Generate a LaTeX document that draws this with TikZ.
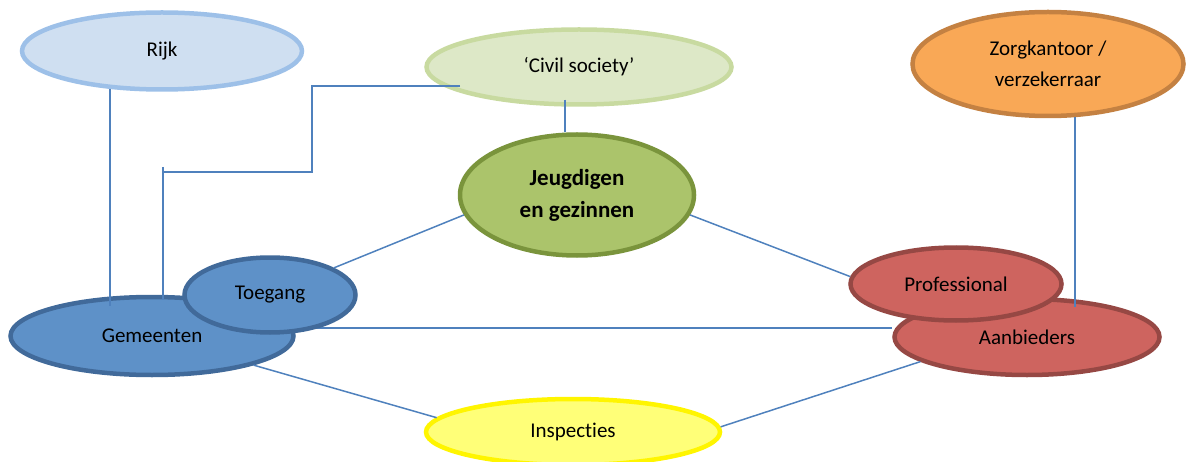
\documentclass[tikz,border=0pt]{standalone}
\usepackage{fontspec}
\setmainfont[Ligatures=NoCommon]{Carlito}
\usetikzlibrary{shapes.geometric}

\definecolor{rijkfill}{RGB}{207,223,241}
\definecolor{rijkline}{RGB}{157,192,232}
\definecolor{civfill}{RGB}{221,232,199}
\definecolor{civline}{RGB}{200,218,160}
\definecolor{zorgfill}{RGB}{249,168,86}
\definecolor{zorgline}{RGB}{196,129,66}
\definecolor{jeugdfill}{RGB}{171,196,107}
\definecolor{jeugdline}{RGB}{122,148,60}
\definecolor{gemfill}{RGB}{94,145,200}
\definecolor{gemline}{RGB}{65,106,154}
\definecolor{aanbfill}{RGB}{206,100,95}
\definecolor{aanbline}{RGB}{150,72,68}
\definecolor{inspfill}{RGB}{255,255,120}
\definecolor{inspline}{RGB}{255,245,0}
\definecolor{linkblue}{RGB}{79,129,189}

\begin{document}
\begin{tikzpicture}[x=1pt, y=-1pt,
  blob/.style={ellipse, draw, line width=4.5pt, inner sep=0pt, align=center,
    font=\fontsize{21}{31}\selectfont},
  link/.style={draw=linkblue, line width=1.5pt}]

\useasboundingbox (0,0) rectangle (1190,462);

% Rijk
\node[blob, fill=rijkfill, draw=rijkline, minimum width=280pt, minimum height=77pt] (rijk) at (162,51) {Rijk};

% Civil society
\node[blob, fill=civfill, draw=civline, minimum width=305pt, minimum height=75pt] (civil) at (579,67) {`Civil society'};

% Zorgkantoor
\node[blob, fill=zorgfill, draw=zorgline, minimum width=271pt, minimum height=104pt] (zorg) at (1048,64) {Zorgkantoor /\\verzekerraar};

% Jeugdigen en gezinnen
\node[blob, fill=jeugdfill, draw=jeugdline, minimum width=234pt, minimum height=121pt,
  font=\fontsize{23}{32}\selectfont\bfseries] (jeugd) at (577,195) {Jeugdigen\\en gezinnen};

% Gemeenten and Aanbieders
\node[blob, fill=gemfill, draw=gemline, minimum width=283pt, minimum height=78pt] (gem) at (152,336) {Gemeenten};
\node[blob, fill=aanbfill, draw=aanbline, minimum width=265pt, minimum height=76pt] (aanb) at (1027,337) {Aanbieders};
\draw[link] ([yshift=8pt]gem.east) -- ([yshift=8pt]gem.east -| aanb.west);

% Toegang and Professional
\node[blob, fill=gemfill, draw=gemline, minimum width=171pt, minimum height=75pt] (toeg) at (270,295) {Toegang};
\node[blob, fill=aanbfill, draw=aanbline, minimum width=211pt, minimum height=73pt] (prof) at (956,284) {Professional};

% Inspecties
\node[blob, fill=inspfill, draw=inspline, minimum width=294pt, minimum height=66pt] (insp) at (573,432) {Inspecties};

% Lines
\coordinate (elbow) at (312,172);
\coordinate (drop) at (163,167);
\draw[link] (rijk.216) -- ([yshift=-11pt]rijk.216 |- gem.north);
\draw[link] ([xshift=-119pt,yshift=-19pt]civil.center) -| (elbow) -- (elbow -| drop);
\draw[link] (drop) -- ([yshift=-5pt]drop |- gem.north);
\draw[link] ([xshift=-12pt,yshift=7pt]jeugd.north |- civil.south) -- ([xshift=-12pt]jeugd.north);
\draw[link] (zorg.297) -- ([yshift=-10pt]zorg.297 |- aanb.north);
\draw[link] (jeugd.190) -- (toeg.23);
\draw[link] (jeugd.350) -- (prof.176);
\draw[link] (gem.344) -- (insp.174);
\draw[link] (aanb.193) -- (insp.2);

\end{tikzpicture}
\end{document}
